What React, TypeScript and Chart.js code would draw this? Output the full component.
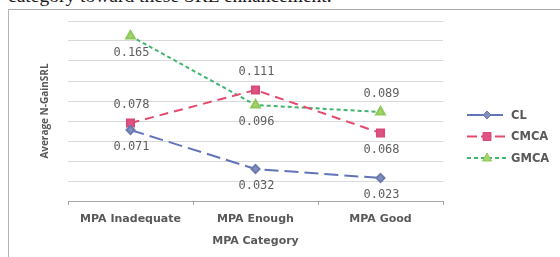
import React, { useEffect, useRef } from 'react';
import { Chart, registerables } from 'chart.js';

Chart.register(...registerables);

const categories = ['MPA Inadequate', 'MPA Enough', 'MPA Good'];
const seriesNames = ['CL', 'CMCA', 'GMCA'];
const clValues = [0.071, 0.032, 0.023];
const cmcaValues = [0.078, 0.111, 0.068];
const gmcaValues = [0.165, 0.096, 0.089];
const yMin = 0;
const yMax = 0.18;
const yStep = 0.02;

const GREY_TEXT = '#595959';

function drawMarker(ctx: CanvasRenderingContext2D, style: string, x: number, y: number, r: number, fill: string, stroke: string) {
  ctx.save();
  ctx.setLineDash([]);
  ctx.fillStyle = fill;
  ctx.strokeStyle = stroke;
  ctx.lineWidth = 1;
  ctx.beginPath();
  if (style === 'rectRot') {
    ctx.moveTo(x, y - r);
    ctx.lineTo(x + r, y);
    ctx.lineTo(x, y + r);
    ctx.lineTo(x - r, y);
    ctx.closePath();
  } else if (style === 'rect') {
    ctx.rect(x - r * 0.8, y - r * 0.8, r * 1.6, r * 1.6);
  } else {
    ctx.moveTo(x, y - r);
    ctx.lineTo(x + r * 0.9, y + r * 0.6);
    ctx.lineTo(x - r * 0.9, y + r * 0.6);
    ctx.closePath();
  }
  ctx.fill();
  ctx.stroke();
  ctx.restore();
}

export default function App() {
  const ref = useRef<HTMLCanvasElement>(null);

  useEffect(() => {
    const labelPlugin = {
      id: 'valueLabels',
      afterDatasetsDraw(chart: any) {
        const ctx = chart.ctx as CanvasRenderingContext2D;
        ctx.save();
        ctx.font = '12px "DejaVu Sans Mono", monospace';
        ctx.fillStyle = '#5e5e5e';
        ctx.textAlign = 'center';
        ctx.textBaseline = 'middle';
        chart.data.datasets.forEach((ds: any, i: number) => {
          const meta = chart.getDatasetMeta(i);
          meta.data.forEach((pt: any, j: number) => {
            const v = ds.data[j] as number;
            const dy = ds.labelPos[j] === 'above' ? -18 : 17;
            ctx.fillText(v.toFixed(3), pt.x + 1, pt.y + dy);
          });
        });
        ctx.restore();
      },
    };

    const legendPlugin = {
      id: 'sideLegend',
      afterDraw(chart: any) {
        const ctx = chart.ctx as CanvasRenderingContext2D;
        const area = chart.chartArea;
        const x0 = area.right + 24;
        const x1 = x0 + 40;
        const startY = 105;
        const gap = 21.5;
        ctx.save();
        chart.data.datasets.forEach((ds: any, i: number) => {
          const y = startY + i * gap;
          ctx.strokeStyle = ds.borderColor;
          ctx.lineWidth = 2;
          ctx.setLineDash(ds.legendDash);
          ctx.beginPath();
          ctx.moveTo(x0, y);
          ctx.lineTo(x1, y);
          ctx.stroke();
          drawMarker(ctx, ds.pointStyle, (x0 + x1) / 2, y, ds.pointRadius, ds.pointBackgroundColor, ds.pointBorderColor);
          ctx.setLineDash([]);
          ctx.font = 'bold 11.5px "DejaVu Sans", sans-serif';
          ctx.fillStyle = GREY_TEXT;
          ctx.textAlign = 'left';
          ctx.textBaseline = 'middle';
          ctx.fillText(ds.label, x1 + 4, y + 1);
        });
        ctx.restore();
      },
    };

    const chart = new Chart(ref.current as HTMLCanvasElement, {
      type: 'line',
      data: {
        labels: categories,
        datasets: [
          {
            label: seriesNames[0],
            data: clValues,
            borderColor: '#6274b8',
            borderWidth: 2,
            borderDash: [14, 6],
            legendDash: [16, 4],
            pointStyle: 'rectRot',
            pointRadius: 4,
            pointBackgroundColor: '#8090bc',
            pointBorderColor: '#6a7ab0',
            fill: false,
            tension: 0,
            labelPos: ['below', 'below', 'below'],
          } as any,
          {
            label: seriesNames[1],
            data: cmcaValues,
            borderColor: '#e54a6e',
            borderWidth: 2,
            borderDash: [9, 6],
            legendDash: [10, 4],
            pointStyle: 'rect',
            pointRadius: 5,
            pointBackgroundColor: '#dd5482',
            pointBorderColor: '#d84a78',
            fill: false,
            tension: 0,
            labelPos: ['above', 'above', 'below'],
          } as any,
          {
            label: seriesNames[2],
            data: gmcaValues,
            borderColor: '#3fb56e',
            borderWidth: 2,
            borderDash: [4, 3],
            legendDash: [4, 3],
            pointStyle: 'triangle',
            pointRadius: 5,
            pointBackgroundColor: '#a9d46a',
            pointBorderColor: '#8cc85a',
            fill: false,
            tension: 0,
            labelPos: ['below', 'below', 'above'],
          } as any,
        ],
      },
      options: {
        responsive: false,
        animation: false,
        devicePixelRatio: 1,
        layout: { padding: { left: 0, top: 11, right: 117, bottom: 0 } },
        plugins: {
          legend: { display: false },
          tooltip: { enabled: false },
        },
        scales: {
          x: {
            offset: true,
            grid: {
              offset: true,
              drawOnChartArea: false,
              drawTicks: true,
              tickLength: 4,
              color: '#a6a6a6',
            },
            border: { display: true, color: '#a6a6a6', width: 1 },
            ticks: {
              font: { family: '"DejaVu Sans", sans-serif', size: 11, weight: 'bold' },
              color: GREY_TEXT,
              padding: 8,
              maxRotation: 0,
            },
            title: {
              display: true,
              text: 'MPA Category',
              font: { family: '"DejaVu Sans", sans-serif', size: 11, weight: 'bold' },
              color: GREY_TEXT,
              padding: { top: 0, bottom: 9 },
            },
            afterFit: (s: any) => {
              s.height = 56;
            },
          },
          y: {
            min: yMin,
            max: yMax,
            ticks: { display: false, stepSize: yStep },
            grid: { color: '#d9d9d9', drawTicks: false },
            border: { display: false },
            title: {
              display: true,
              text: 'Average N-GainSRL',
              font: { family: '"Open Sans", sans-serif', size: 10, weight: 'bold' },
              color: GREY_TEXT,
              padding: { top: 30, bottom: 0 },
            },
            afterFit: (s: any) => {
              s.width = 59;
            },
          },
        },
      } as any,
      plugins: [labelPlugin, legendPlugin],
    });
    return () => chart.destroy();
  }, []);

  return (
    <div style={{ position: 'fixed', left: 0, top: 0, width: 560, height: 257, overflow: 'hidden', background: '#ffffff' }}>
      <div
        style={{
          position: 'absolute',
          left: 8,
          top: -14,
          font: '19.5px "Liberation Serif", serif',
          lineHeight: '20px',
          color: '#1a1a1a',
          whiteSpace: 'nowrap',
        }}
      >
        category toward these SRL enhancement.
      </div>
      <div
        style={{
          position: 'absolute',
          left: 8,
          top: 9,
          width: 600,
          height: 300,
          borderTop: '1px solid #a8a8a8',
          borderLeft: '1px solid #b4b4b4',
        }}
      />
      <canvas
        ref={ref}
        width={551}
        height={247}
        style={{ position: 'absolute', left: 9, top: 10, width: 551, height: 247 }}
      />
    </div>
  );
}
